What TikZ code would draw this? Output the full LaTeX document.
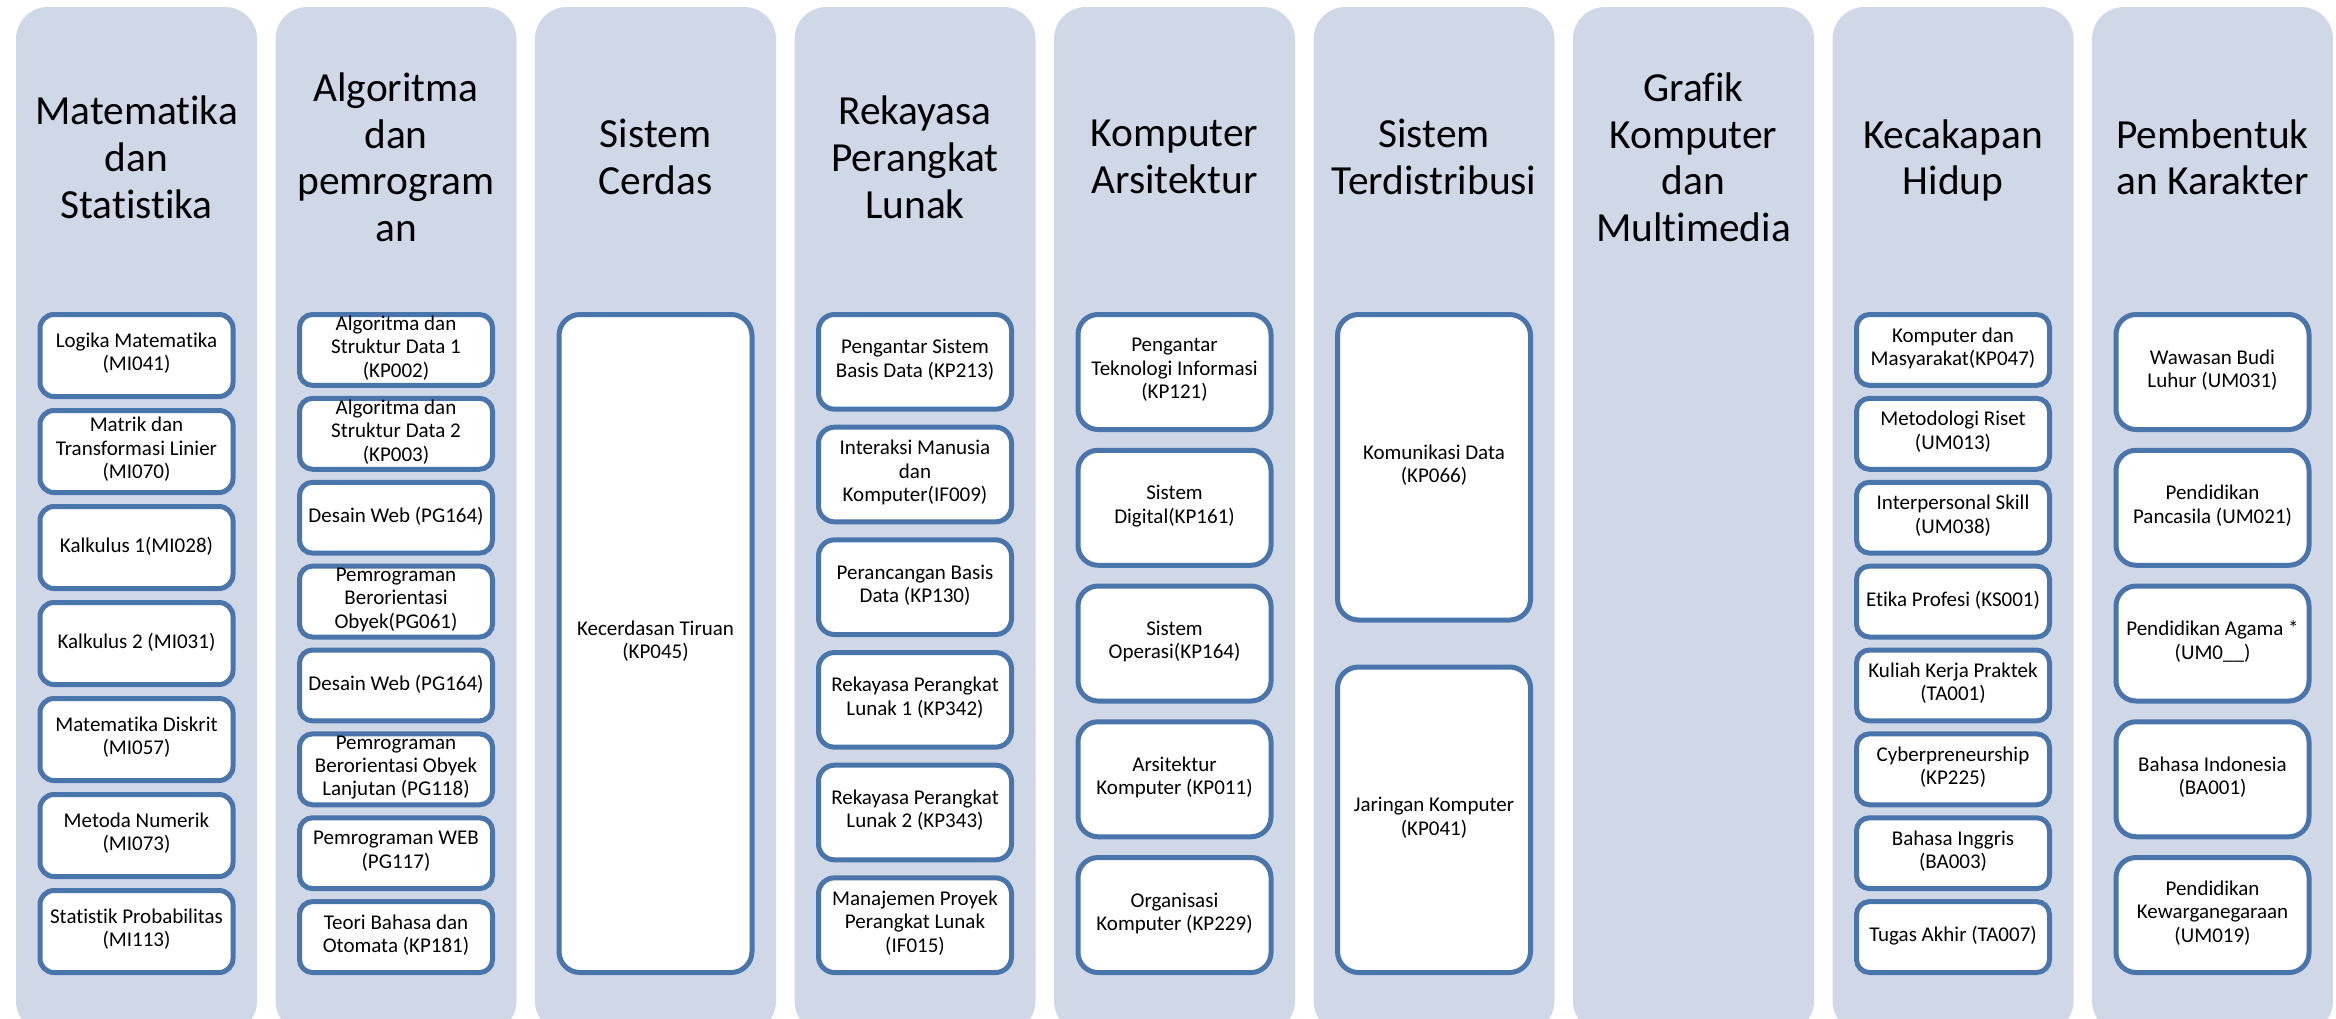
\documentclass[tikz,border=0pt]{standalone}
\usepackage{fontspec}
\setmainfont{Carlito}[Ligatures=NoCommon]
\definecolor{lanefill}{RGB}{208,216,232}
\definecolor{boxline}{RGB}{73,117,171}

\tikzset{
  lane/.style={fill=lanefill, draw=none, rounded corners=32pt, inner sep=0pt,
    outer sep=0pt, minimum width=241pt, minimum height=1026pt, anchor=north west},
  lanetitle/.style={align=center, inner sep=0pt, text=black,
    font=\fontsize{41.4}{46.7}\selectfont,
    execute at begin node=\strut, execute at end node=\strut},
  course/.style={draw=boxline, line width=5pt, fill=white, align=center,
    inner sep=0pt, minimum width=193pt, text=black,
    font=\fontsize{21}{23.4}\selectfont,
    execute at begin node=\strut, execute at end node=\strut},
}

% #1 lane number, #2 number of courses, #3 gap, #4 corner radius, #5 list of course names
\newcommand{\coursecol}[5]{%
  \pgfmathsetmacro{\cx}{136.5+259.5*(#1-1)}%
  \pgfmathsetmacro{\bh}{(663-(#2-1)*#3)/#2}%
  \foreach \t [count=\k from 1] in {#5} {%
    \pgfmathsetmacro{\cy}{312+(\k-1)*(\bh+#3)+\bh/2}%
    \node[course, minimum height={\bh-5}, rounded corners=#4pt] (c#1b\k) at (\cx,\cy) {\t};
  }%
}

\begin{document}
\begin{tikzpicture}[x=1pt, y=-1pt]
  \useasboundingbox (0,0) rectangle (2336,1018);
  \clip (0,0) rectangle (2336,1018);
  \fill[white] (0,0) rectangle (2336,1018);

  % background lanes
  \foreach \i in {1,...,9} {
    \node[lane] (lane\i) at ({16+259.5*(\i-1)},7) {};
  }

  % lane titles
  \node[lanetitle] (t1) at (136.5,164) {Matematika\\dan\\Statistika};
  \node[lanetitle] (t2) at (396.0,164) {Algoritma\\dan\\pemrogram\\an};
  \node[lanetitle] (t3) at (655.5,164) {Sistem\\Cerdas};
  \node[lanetitle] (t4) at (915.0,164) {Rekayasa\\Perangkat\\Lunak};
  \node[lanetitle] (t5) at (1174.5,164) {Komputer\\Arsitektur};
  \node[lanetitle] (t6) at (1434.0,164) {Sistem\\Terdistribusi};
  \node[lanetitle] (t7) at (1693.5,164) {Grafik\\Komputer\\dan\\Multimedia};
  \node[lanetitle] (t8) at (1953.0,164) {Kecakapan\\Hidup};
  \node[lanetitle] (t9) at (2212.5,164) {Pembentuk\\an Karakter};

  % courses
  \coursecol{1}{7}{9}{14}{%
    {Logika Matematika\\(MI041)},
    {Matrik dan\\Transformasi Linier\\(MI070)},
    {Kalkulus 1(MI028)},
    {Kalkulus 2 (MI031)},
    {Matematika Diskrit\\(MI057)},
    {Metoda Numerik\\(MI073)},
    {Statistik Probabilitas\\(MI113)}}

  \coursecol{2}{8}{8}{13}{%
    {Algoritma dan\\Struktur Data 1\\(KP002)},
    {Algoritma dan\\Struktur Data 2\\(KP003)},
    {Desain Web (PG164)},
    {Pemrograman\\Berorientasi\\Obyek(PG061)},
    {Desain Web (PG164)},
    {Pemrograman\\Berorientasi Obyek\\Lanjutan (PG118)},
    {Pemrograman WEB\\(PG117)},
    {Teori Bahasa dan\\Otomata (KP181)}}

  \coursecol{3}{1}{0}{21}{%
    {Kecerdasan Tiruan\\(KP045)}}

  \coursecol{4}{6}{13}{16}{%
    {Pengantar Sistem\\Basis Data (KP213)},
    {Interaksi Manusia\\dan\\Komputer(IF009)},
    {Perancangan Basis\\Data (KP130)},
    {Rekayasa Perangkat\\Lunak 1 (KP342)},
    {Rekayasa Perangkat\\Lunak 2 (KP343)},
    {Manajemen Proyek\\Perangkat Lunak\\(IF015)}}

  \coursecol{5}{5}{15.75}{20}{%
    {Pengantar\\Teknologi Informasi\\(KP121)},
    {Sistem\\Digital(KP161)},
    {Sistem\\Operasi(KP164)},
    {Arsitektur\\Komputer (KP011)},
    {Organisasi\\Komputer (KP229)}}

  \coursecol{6}{2}{42}{21}{%
    {Komunikasi Data\\(KP066)},
    {Jaringan Komputer\\(KP041)}}

  \coursecol{8}{8}{8}{13}{%
    {Komputer dan\\Masyarakat(KP047)},
    {Metodologi Riset\\(UM013)},
    {Interpersonal Skill\\(UM038)},
    {Etika Profesi (KS001)},
    {Kuliah Kerja Praktek\\(TA001)},
    {Cyberpreneurship\\(KP225)},
    {Bahasa Inggris\\(BA003)},
    {Tugas Akhir (TA007)}}

  \coursecol{9}{5}{15.75}{20}{%
    {Wawasan Budi\\Luhur (UM031)},
    {Pendidikan\\Pancasila (UM021)},
    {Pendidikan Agama *\\(UM0\_\_)},
    {Bahasa Indonesia\\(BA001)},
    {Pendidikan\\Kewarganegaraan\\(UM019)}}
\end{tikzpicture}
\end{document}
